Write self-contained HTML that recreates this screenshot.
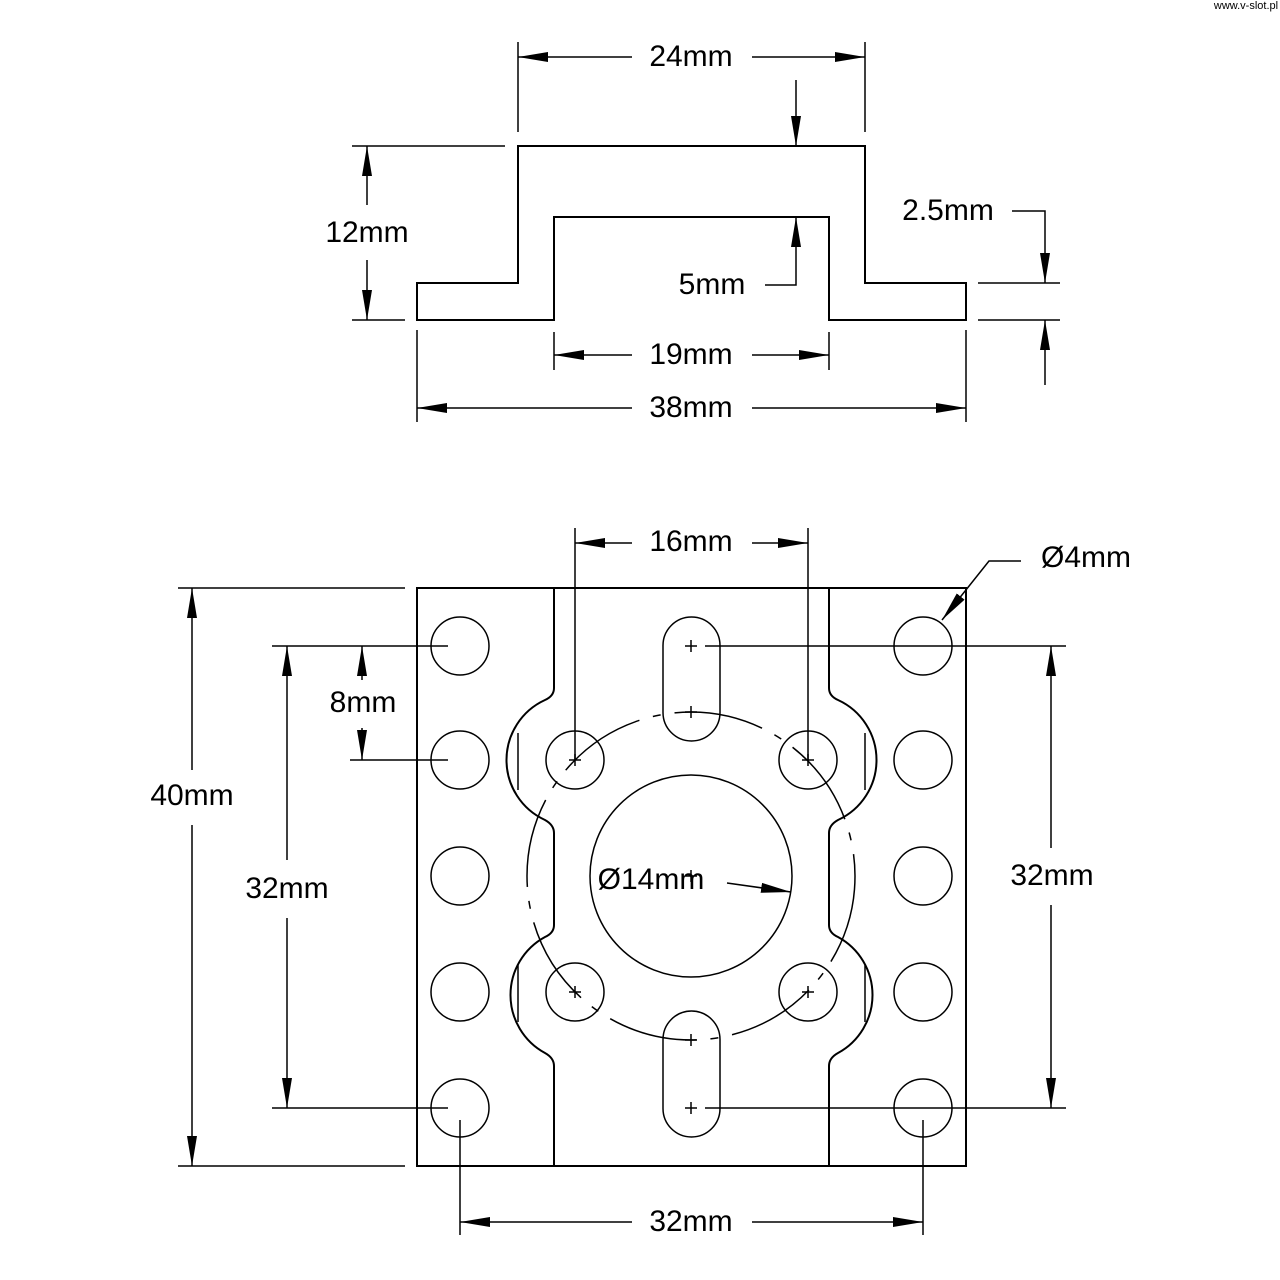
<!DOCTYPE html>
<html><head><meta charset="utf-8"><style>
html,body{margin:0;padding:0;background:#fff}
svg{display:block}
text{font-family:"Liberation Sans",sans-serif;font-size:30px;fill:#000;text-anchor:middle;dominant-baseline:middle}
</style></head><body>
<svg width="1280" height="1280" viewBox="0 0 1280 1280" xmlns="http://www.w3.org/2000/svg">
<defs>
<marker id="a" viewBox="0 0 30 10" refX="30" refY="5" markerWidth="30" markerHeight="10" markerUnits="userSpaceOnUse" orient="auto"><path d="M0,0 L30,5 L0,10 Z" fill="#000"/></marker>
</defs>
<g stroke="#000" stroke-width="2" fill="none">
<path d="M417,320 L554,320 L554,217 L829,217 L829,320 L966,320 L966,283 L865,283 L865,146 L518,146 L518,283 L417,283 Z"/>
<line x1="518" y1="42" x2="518" y2="132" stroke-width="1.5"/>
<line x1="865" y1="42" x2="865" y2="132" stroke-width="1.5"/>
<line x1="632" y1="57" x2="518" y2="57" stroke-width="1.5" marker-end="url(#a)"/>
<line x1="752" y1="57" x2="865" y2="57" stroke-width="1.5" marker-end="url(#a)"/>
<line x1="796" y1="80" x2="796" y2="146" stroke-width="1.5" marker-end="url(#a)"/>
<line x1="352" y1="146" x2="505" y2="146" stroke-width="1.5"/>
<line x1="352" y1="320" x2="405" y2="320" stroke-width="1.5"/>
<line x1="367" y1="205" x2="367" y2="146" stroke-width="1.5" marker-end="url(#a)"/>
<line x1="367" y1="260" x2="367" y2="320" stroke-width="1.5" marker-end="url(#a)"/>
<polyline points="765,285 796,285 796,217" stroke-width="1.5" marker-end="url(#a)"/>
<polyline points="1012,211 1045,211 1045,283" stroke-width="1.5" marker-end="url(#a)"/>
<line x1="978" y1="283" x2="1060" y2="283" stroke-width="1.5"/>
<line x1="978" y1="320" x2="1060" y2="320" stroke-width="1.5"/>
<line x1="1045" y1="385" x2="1045" y2="320" stroke-width="1.5" marker-end="url(#a)"/>
<line x1="554" y1="332" x2="554" y2="370" stroke-width="1.5"/>
<line x1="829" y1="332" x2="829" y2="370" stroke-width="1.5"/>
<line x1="632" y1="355" x2="554" y2="355" stroke-width="1.5" marker-end="url(#a)"/>
<line x1="752" y1="355" x2="829" y2="355" stroke-width="1.5" marker-end="url(#a)"/>
<line x1="417" y1="330" x2="417" y2="422" stroke-width="1.5"/>
<line x1="966" y1="330" x2="966" y2="422" stroke-width="1.5"/>
<line x1="632" y1="408" x2="417" y2="408" stroke-width="1.5" marker-end="url(#a)"/>
<line x1="752" y1="408" x2="966" y2="408" stroke-width="1.5" marker-end="url(#a)"/>

<rect x="417" y="588" width="549" height="578"/>
<path d="M554,588 L554,688 Q554,696 545,700 A66,66 0 0 0 545,820 Q554,825 554,833 L554,925 Q554,933 545,937 A66,66 0 0 0 545,1053 Q554,1058 554,1066 L554,1166"/>
<path d="M829,588 L829,688 Q829,696 838,700 A66,66 0 0 1 838,820 Q829,825 829,833 L829,925 Q829,933 838,937 A66,66 0 0 1 838,1053 Q829,1058 829,1066 L829,1166"/>
<line x1="518" y1="733" x2="518" y2="790" stroke-width="1.5"/>
<line x1="865" y1="733" x2="865" y2="790" stroke-width="1.5"/>
<line x1="518" y1="965" x2="518" y2="1022" stroke-width="1.5"/>
<line x1="865" y1="965" x2="865" y2="1022" stroke-width="1.5"/>
<g stroke-width="1.5">
<circle cx="460" cy="646" r="29"/><circle cx="460" cy="760" r="29"/><circle cx="460" cy="876" r="29"/><circle cx="460" cy="992" r="29"/><circle cx="460" cy="1108" r="29"/>
<circle cx="923" cy="646" r="29"/><circle cx="923" cy="760" r="29"/><circle cx="923" cy="876" r="29"/><circle cx="923" cy="992" r="29"/><circle cx="923" cy="1108" r="29"/>
<circle cx="575" cy="760" r="29"/><circle cx="808" cy="760" r="29"/><circle cx="575" cy="992" r="29"/><circle cx="808" cy="992" r="29"/>
<circle cx="691" cy="876" r="101"/>
<rect x="663" y="617" width="57" height="124" rx="28.5"/>
<rect x="663" y="1011" width="57" height="126" rx="28.5"/>
<circle cx="691" cy="876" r="164" stroke-dasharray="90 14 8 14"/>
<path d="M685,646h12M691,640v12 M685,712h12M691,706v12 M685,1040h12M691,1034v12 M685,1108h12M691,1102v12 M569,760h12M575,754v12 M802,760h12M808,754v12 M569,992h12M575,986v12 M802,992h12M808,986v12 M685,876h12M691,870v12"/>
<line x1="575" y1="528" x2="575" y2="760"/>
<line x1="808" y1="528" x2="808" y2="760"/>
<line x1="632" y1="543" x2="575" y2="543" marker-end="url(#a)"/>
<line x1="752" y1="543" x2="808" y2="543" marker-end="url(#a)"/>
<polyline points="1021,561 989,561 942,620" marker-end="url(#a)"/>
<line x1="178" y1="588" x2="405" y2="588"/>
<line x1="178" y1="1166" x2="405" y2="1166"/>
<line x1="192" y1="770" x2="192" y2="588" marker-end="url(#a)"/>
<line x1="192" y1="825" x2="192" y2="1166" marker-end="url(#a)"/>
<line x1="272" y1="646" x2="448" y2="646"/>
<line x1="350" y1="760" x2="448" y2="760"/>
<line x1="362" y1="680" x2="362" y2="646" marker-end="url(#a)"/>
<line x1="362" y1="728" x2="362" y2="760" marker-end="url(#a)"/>
<line x1="272" y1="1108" x2="448" y2="1108"/>
<line x1="287" y1="860" x2="287" y2="646" marker-end="url(#a)"/>
<line x1="287" y1="918" x2="287" y2="1108" marker-end="url(#a)"/>
<line x1="705" y1="646" x2="1066" y2="646"/>
<line x1="705" y1="1108" x2="1066" y2="1108"/>
<line x1="1051" y1="848" x2="1051" y2="646" marker-end="url(#a)"/>
<line x1="1051" y1="905" x2="1051" y2="1108" marker-end="url(#a)"/>
<line x1="460" y1="1120" x2="460" y2="1235"/>
<line x1="923" y1="1120" x2="923" y2="1235"/>
<line x1="632" y1="1222" x2="460" y2="1222" marker-end="url(#a)"/>
<line x1="752" y1="1222" x2="923" y2="1222" marker-end="url(#a)"/>
<line x1="727" y1="883" x2="791" y2="892" marker-end="url(#a)"/>
</g>
</g>
<text x="691" y="58">24mm</text>
<text x="367" y="234">12mm</text>
<text x="712" y="286">5mm</text>
<text x="948" y="212">2.5mm</text>
<text x="691" y="356">19mm</text>
<text x="691" y="409">38mm</text>
<text x="691" y="543">16mm</text>
<text x="1086" y="559">Ø4mm</text>
<text x="192" y="797">40mm</text>
<text x="363" y="704">8mm</text>
<text x="287" y="890">32mm</text>
<text x="1052" y="877">32mm</text>
<text x="691" y="1223">32mm</text>
<text x="651" y="881">Ø14mm</text>
<text x="1246" y="6" style="font-size:11px">www.v-slot.pl</text>
</svg>
</body></html>
